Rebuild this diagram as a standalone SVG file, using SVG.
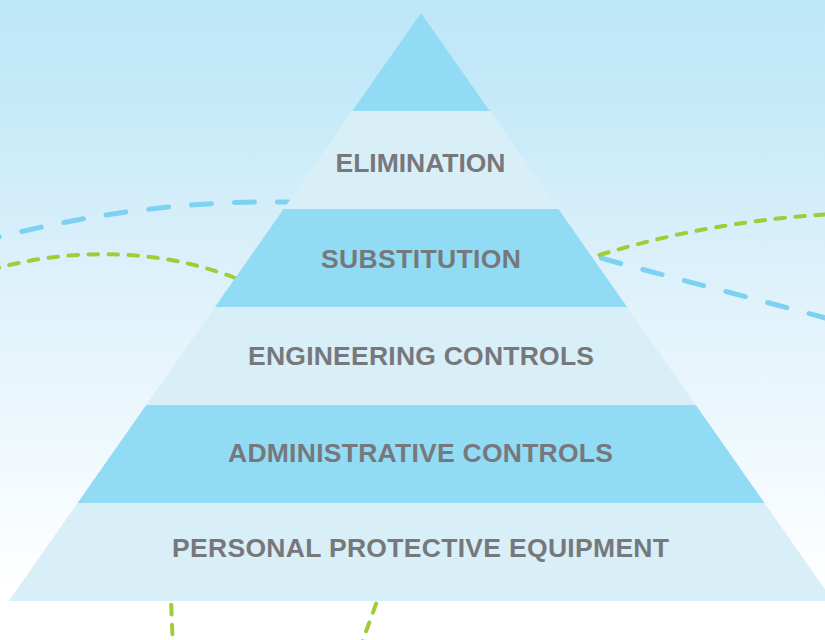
<svg xmlns="http://www.w3.org/2000/svg" width="825" height="640" viewBox="0 0 825 640">
  <defs>
    <linearGradient id="bg" x1="0" y1="0" x2="0" y2="1">
      <stop offset="0" stop-color="#bee7f8"/>
      <stop offset="0.1" stop-color="#c2e8f8"/>
      <stop offset="0.5" stop-color="#e2f3fb"/>
      <stop offset="0.92" stop-color="#ffffff"/>
      <stop offset="1" stop-color="#ffffff"/>
    </linearGradient>
    <style>
      .dark { fill: #92dbf4; }
      .light { fill: #d9eff8; }
      .lbl { font-family: "Liberation Sans", Arial, Helvetica, sans-serif; font-weight: bold; font-size: 26.5px; fill: #77787b; text-anchor: middle; }
      .blue { fill: none; stroke: #7dd1f2; stroke-width: 5; stroke-linecap: round; stroke-dasharray: 20 23; }
      .green { fill: none; stroke: #9fcd3a; stroke-width: 4; stroke-linecap: round; stroke-dasharray: 9.5 10.5; }
    </style>
  </defs>
  <rect x="0" y="0" width="825" height="640" fill="url(#bg)"/>
  <g id="connectors">
    <path class="blue" d="M -20 242 C 80 215, 180 201, 282 202 L 330 203"/>
    <path class="blue" d="M 560 246 L 597 257 C 680 280, 760 300, 840 322"/>
    <path class="green" d="M -10 270 C 60 250, 150 245, 235 278 L 260 290"/>
    <path class="green" d="M 560 262 L 596 256 C 680 230, 760 218, 835 214"/>
    <path class="green" d="M 170.5 585 Q 171.5 615 173 648"/>
    <path class="green" d="M 383 585 Q 372 615 360 648"/>
  </g>
  <g id="apex">
    <polygon class="dark" points="421,13 489.7,111 352.3,111"/>
  </g>
  <g id="elimination">
    <polygon class="light" points="352.3,111 489.7,111 558.4,209 283.6,209"/>
    <text class="lbl" x="420.5" y="171.5" textLength="170" lengthAdjust="spacing">ELIMINATION</text>
  </g>
  <g id="substitution">
    <polygon class="dark" points="283.6,209 558.4,209 627.1,307 214.9,307"/>
    <text class="lbl" x="421" y="268" textLength="200" lengthAdjust="spacing">SUBSTITUTION</text>
  </g>
  <g id="engineering">
    <polygon class="light" points="214.9,307 627.1,307 695.8,405 146.2,405"/>
    <text class="lbl" x="421" y="365" textLength="346" lengthAdjust="spacing">ENGINEERING CONTROLS</text>
  </g>
  <g id="administrative">
    <polygon class="dark" points="146.2,405 695.8,405 764.5,503 77.5,503"/>
    <text class="lbl" x="420.5" y="461.5" textLength="385" lengthAdjust="spacing">ADMINISTRATIVE CONTROLS</text>
  </g>
  <g id="ppe">
    <polygon class="light" points="77.5,503 764.5,503 833.2,601 8.8,601"/>
    <text class="lbl" x="420.5" y="557" textLength="497" lengthAdjust="spacing">PERSONAL PROTECTIVE EQUIPMENT</text>
  </g>
</svg>
